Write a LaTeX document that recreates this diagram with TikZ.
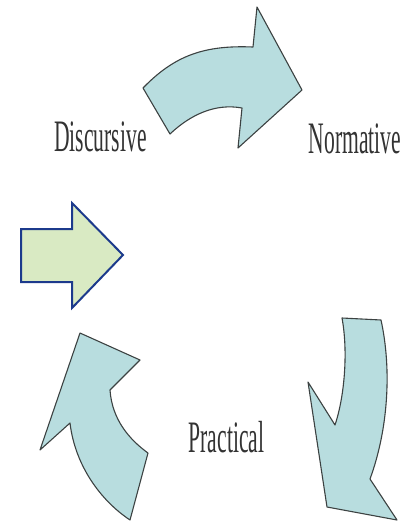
\documentclass[tikz,border=0pt]{standalone}
\usepackage{fontspec}
\newfontfamily\labelfont[FakeStretch=0.48]{Liberation Serif}
\usepackage{tikz}
\usetikzlibrary{positioning}
\definecolor{cyclefill}{RGB}{184,221,223}
\definecolor{cycleline}{RGB}{60,66,66}
\definecolor{pushfill}{RGB}{217,234,195}
\definecolor{pushline}{RGB}{28,58,140}
\begin{document}
\begin{tikzpicture}[x=1pt, y=-1pt,
        cyclearrow/.style={draw=cycleline, fill=cyclefill, line width=1.1pt, line join=round},
        pusharrow/.style={draw=pushline, fill=pushfill, line width=2pt, line join=miter},
        stage/.style={font=\labelfont\fontsize{45}{45}\selectfont, text=black!80, anchor=base, inner sep=0pt}]

    \useasboundingbox (0,0) rectangle (411,523);

    \node[stage] (discursive) at (100.5,151) {Discursive};
    \node[stage] (normative) at (355,153) {Normative};
    \node[stage] (practical) at (226.5,452) {Practical};

    \draw[cyclearrow] (143,88) .. controls (175,55) and (205,45) .. (253,47) -- (257,7) -- (302,90)
        -- (238,148) -- (242,108) .. controls (215,103) and (190,115) .. (170,134) -- cycle;
    \draw[cyclearrow] (342,318) -- (381,320) .. controls (392,370) and (388,430) .. (370,479)
        -- (397,520) -- (327,507) -- (308,382) -- (335,425) .. controls (345,395) and (348,350) .. (342,318) -- cycle;
    \draw[cyclearrow] (80,333) -- (140,360) -- (110,390) .. controls (112,420) and (130,440) .. (148,453)
        -- (130,520) .. controls (100,500) and (75,465) .. (70,423) -- (40,450) -- cycle;

    \draw[pusharrow] (21,229) -- (72,229) -- (72,203) -- (123,255) -- (72,308) -- (72,282) -- (21,282) -- cycle;
\end{tikzpicture}
\end{document}
